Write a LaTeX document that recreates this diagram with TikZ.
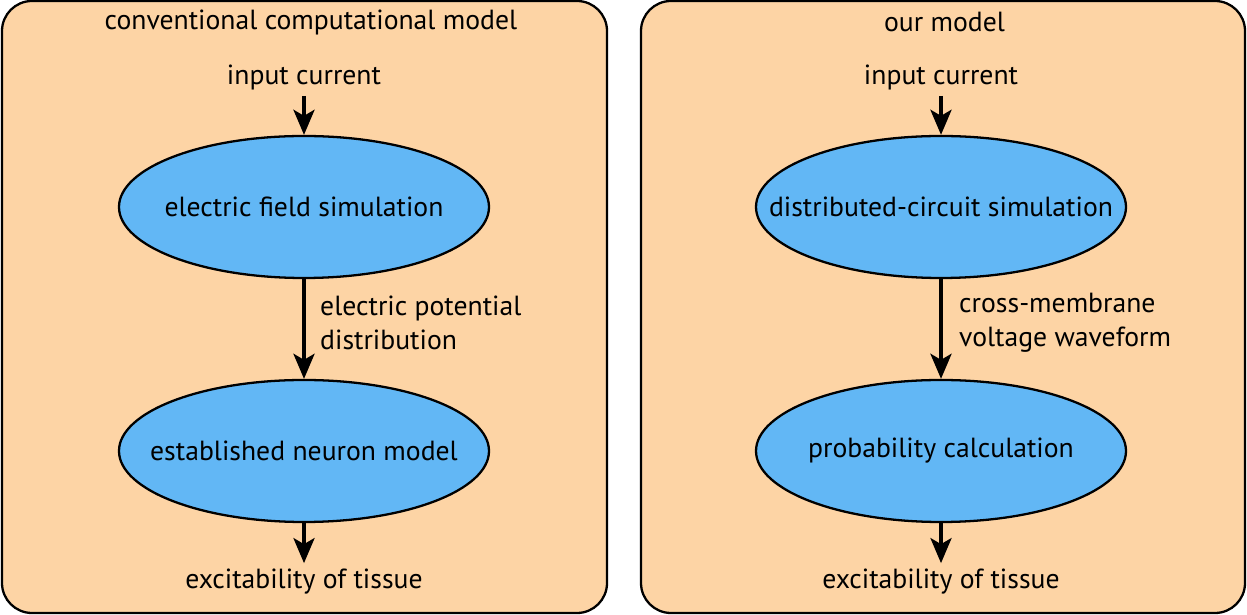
\documentclass[tikz,border=0pt]{standalone}
\usepackage{fontspec}
\setmainfont{PT Sans}
\usetikzlibrary{shapes.geometric,arrows.meta}
\definecolor{panelfill}{RGB}{253,212,165}
\definecolor{ellfill}{RGB}{98,183,245}
% text of fixed-size ellipses takes no width
\newcommand{\midtext}[1]{\makebox[0pt]{#1}}
\tikzset{
    panel/.style={draw=black,fill=panelfill,line width=1.3pt,rounded corners=0.6cm},
    simbox/.style={ellipse,draw=black,fill=ellfill,line width=1.3pt,minimum width=7.4cm,minimum height=2.84cm,inner sep=0pt},
    flow/.style={-{Stealth[length=0.5cm,width=0.42cm,inset=0.12cm]},line width=2.2pt},
    txt/.style={font=\fontsize{15.75}{19.4}\selectfont}
}
\begin{document}
\begin{tikzpicture}
    \useasboundingbox (0,0) rectangle (24.94,12.30);
    % panels
    \filldraw[panel] (0.04,0.04) rectangle (12.14,12.28);
    \filldraw[panel] (12.82,0.04) rectangle (24.90,12.28);
    % conventional computational model
    \node[txt] (titleA) at (6.22,11.86) {conventional computational model};
    \node[txt] (inA) at (6.08,10.76) {input current};
    \node[simbox,txt] (fieldA) at (6.08,8.16) {\midtext{electric field simulation}};
    \node[simbox,txt] (neuronA) at (6.08,3.28) {\midtext{established neuron model}};
    \node[txt] (outA) at (6.08,0.66) {excitability of tissue};
    \node[txt,anchor=west,align=left] (potA) at (6.28,5.84) {electric potential\\distribution};
    \draw[flow] (inA) -- (fieldA);
    \draw[flow] (fieldA) -- (neuronA);
    \draw[flow] (neuronA) -- (outA);
    % our model
    \node[txt] (titleB) at (18.89,11.86) {our model};
    \node[txt] (inB) at (18.82,10.76) {input current};
    \node[simbox,txt] (circB) at (18.82,8.16) {\midtext{distributed-circuit simulation}};
    \node[simbox,txt] (probB) at (18.82,3.28) {\midtext{probability calculation}};
    \node[txt] (outB) at (18.82,0.66) {excitability of tissue};
    \node[txt,anchor=west,align=left] (voltB) at (19.06,5.84) {cross-membrane\\voltage waveform};
    \draw[flow] (inB) -- (circB);
    \draw[flow] (circB) -- (probB);
    \draw[flow] (probB) -- (outB);
\end{tikzpicture}
\end{document}
